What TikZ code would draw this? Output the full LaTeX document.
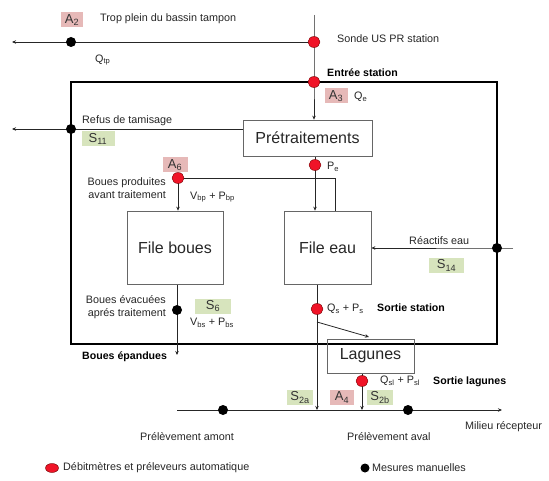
\documentclass[tikz,border=0pt]{standalone}
\usepackage{fontspec}
\setmainfont{Liberation Sans}
\usetikzlibrary{arrows.meta,shapes.geometric,backgrounds,calc}
\definecolor{pinkc}{RGB}{230,185,184}
\definecolor{greenc}{RGB}{215,228,189}
\definecolor{dotred}{RGB}{240,20,40}
\begin{document}
\begin{tikzpicture}[x=1pt,y=-1pt,
  txt/.style={inner sep=0pt, font=\fontsize{10.8}{13}\selectfont, text=black!85},
  btxt/.style={inner sep=0pt, font=\fontsize{10.6}{13}\selectfont\bfseries, text=black},
  proc/.style={draw=black!60, line width=0.7pt, font=\fontsize{16}{18}\selectfont, inner sep=0pt, text=black!85},
  tagA/.style={fill=pinkc, inner sep=0pt, minimum height=15pt, font=\fontsize{13}{14}\selectfont, text=black!80},
  tagS/.style={fill=greenc, inner sep=0pt, minimum height=15pt, font=\fontsize{13}{14}\selectfont, text=black!80},
  rdot/.style={ellipse, fill=dotred, draw=red!45!black, line width=0.4pt, minimum width=12pt, minimum height=11pt, inner sep=0pt},
  bdot/.style={circle, fill=black, minimum size=10pt, inner sep=0pt},
  wire/.style={draw=black!85, line width=0.8pt},
  arr/.style={wire, -{Stealth[length=4pt,width=3.5pt]}},
  frame/.style={draw=black, line width=2.6pt}]
\useasboundingbox (0,0) rectangle (549,481);

% process boxes
\node[proc, minimum width=129pt, minimum height=36pt] (pretr) at (307.5,138) {Prétraitements};
\node[proc, minimum width=96pt, minimum height=73pt] (fb) at (175,247.5) {File boues};
\node[proc, minimum width=87pt, minimum height=73pt] (fe) at (327.5,247.5) {File eau};
\node[proc, minimum width=87pt, minimum height=34pt] (lag) at (370.5,356) {Lagunes};

% measuring points
\node[rdot] (sdot) at (314,42) {};
\node[rdot] (edot) at (314,82) {};
\node[rdot] (pedot) at (315,165) {};
\node[rdot] (a6dot) at (178,178) {};
\node[rdot] (qsdot) at (317,309) {};
\node[rdot] (qldot) at (362,381) {};
\node[bdot] (tpdot) at (71,42) {};
\node[bdot] (rfdot) at (71,129) {};
\node[bdot] (bedot) at (177,310) {};
\node[bdot] (radot) at (497,248) {};
\node[bdot] (amdot) at (223,410) {};
\node[bdot] (avdot) at (408,410) {};

% tags
\node[tagA, minimum width=22pt] (A2) at (72,20) {A\textsubscript{2}};
\node[tagA, minimum width=23pt] (A3) at (336,96) {A\textsubscript{3}};
\node[tagA, minimum width=25pt] (A6) at (175,165) {A\textsubscript{6}};
\node[tagA, minimum width=24pt] (A4) at (342,397.5) {A\textsubscript{4}};
\node[tagS, minimum width=33pt] (S11) at (98,139) {S\textsubscript{11}};
\node[tagS, minimum width=35pt] (S14) at (446.5,265.5) {S\textsubscript{14}};
\node[tagS, minimum width=36pt] (S6) at (213,306) {S\textsubscript{6}};
\node[tagS, minimum width=26pt] (S2a) at (300,397.5) {S\textsubscript{2a}};
\node[tagS, minimum width=26pt] (S2b) at (380,397.5) {S\textsubscript{2b}};

% texts
\node[txt, anchor=west] (ttrop) at (100,19) {Trop plein du bassin tampon};
\node[txt, anchor=west] (tsonde) at (337,39) {Sonde US PR station};
\node[txt, anchor=west] (tqtp) at (95,60) {Q\textsubscript{tp}};
\node[btxt, anchor=west] (tentree) at (327,73) {Entrée station};
\node[txt, anchor=west] (tqe) at (354,97) {Q\textsubscript{e}};
\node[txt, anchor=west] (trefus) at (82,121) {Refus de tamisage};
\node[txt, anchor=west] (tpe) at (327,167) {P\textsubscript{e}};
\node[txt, anchor=east, align=right] (tbp) at (166,188.5) {Boues produites\\avant traitement};
\node[txt, anchor=west] (tvbp) at (190,197) {V\textsubscript{bp} + P\textsubscript{bp}};
\node[txt, anchor=west] (treac) at (409,241) {Réactifs eau};
\node[txt, anchor=east, align=right] (tbe) at (166,307) {Boues évacuées\\aprés traitement};
\node[txt, anchor=west] (tvbs) at (190,323) {V\textsubscript{bs} + P\textsubscript{bs}};
\node[txt, anchor=west] (tqs) at (327,309) {Q\textsubscript{s} + P\textsubscript{s}};
\node[btxt, anchor=west] (tsortie) at (377,308) {Sortie station};
\node[btxt, anchor=west] (tbepand) at (82,357) {Boues épandues};
\node[txt, anchor=west] (tqsl) at (380,381) {Q\textsubscript{sl} + P\textsubscript{sl}};
\node[btxt, anchor=west] (tslag) at (433,382) {Sortie lagunes};
\node[txt, anchor=west] (tmilieu) at (465,427) {Milieu récepteur};
\node[txt, anchor=west] (tamont) at (140,437) {Prélèvement amont};
\node[txt, anchor=west] (taval) at (347,437) {Prélèvement aval};

% legend
\node[rdot, minimum width=13pt, minimum height=9pt] (lgr) at (52,468) {};
\node[txt, anchor=west] (tlgr) at (63,468) {Débitmètres et préleveurs automatique};
\node[bdot, minimum size=9pt] (lgb) at (365,468) {};
\node[txt, anchor=west] (tlgb) at (372,468) {Mesures manuelles};

% free ends
\coordinate (vtop) at (314,15);
\coordinate (tpend) at (12,42);
\coordinate (rfend) at (12,129);
\coordinate (bjoin) at (335,178);
\coordinate (epend) at (177,355);
\coordinate (raend) at (513,248);
\coordinate (lagin) at (369,337);
\coordinate (rivS) at (177,410);
\coordinate (rivE) at (502,410);

\begin{pgfonlayer}{background}
\draw[frame] (71,82) rectangle (497,344);
\draw[arr] (sdot.center) -- (tpend);
\draw[arr] (vtop) -- (edot.center) -- (edot.center |- pretr.north);
\draw[arr] (pretr.west |- rfdot) -- (rfend);
\draw[arr] (pedot.center |- pretr.south) -- (pedot.center |- fe.north);
\draw[arr] (bjoin |- fe.north) -- (bjoin) -- (a6dot.center) -- (a6dot.center |- fb.north);
\draw[arr] (bedot.center |- fb.south) -- (epend);
\draw[arr] (raend) -- (radot.center) -- (fe.east |- radot);
\draw[arr] (qsdot.center |- fe.south) -- (qsdot.center |- rivS);
\draw[arr] ($(qsdot.center)+(0,13)$) -- (lagin);
\draw[arr] (qldot.center |- lag.south) -- (qldot.center |- rivS);
\draw[arr] (rivS) -- (rivE);
\end{pgfonlayer}
\end{tikzpicture}
\end{document}
